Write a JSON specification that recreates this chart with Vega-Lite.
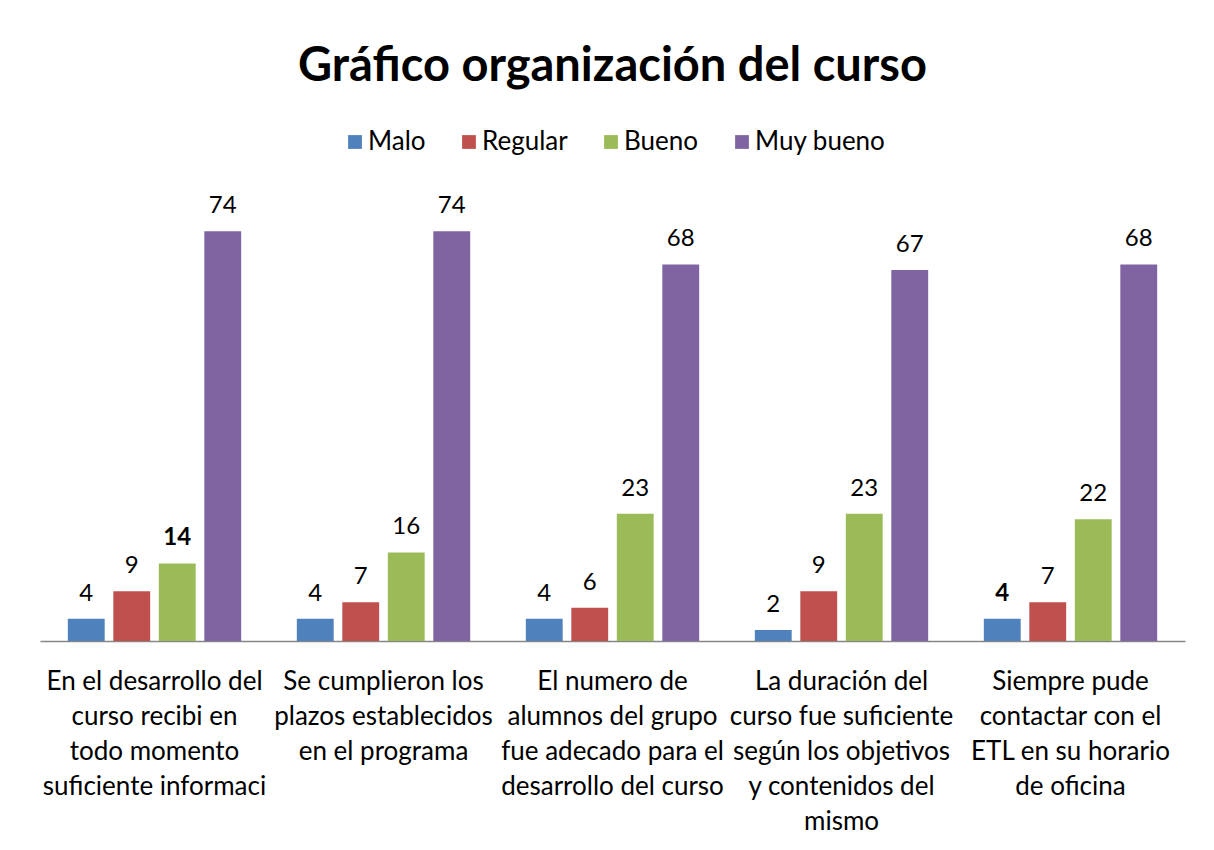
{
  "$schema": "https://vega.github.io/schema/vega-lite/v6.json",
  "width": 1145,
  "height": 443,
  "autosize": "none",
  "padding": {"left": 40, "top": 198, "right": 29, "bottom": 209},
  "background": "white",
  "title": {
    "text": "Gráfico organización del curso",
    "font": "Lato",
    "fontSize": 47,
    "fontWeight": "bold",
    "color": "#000000",
    "anchor": "middle",
    "offset": 38
  },
  "data": {
    "values": [
      {"q": "En el desarrollo del|curso recibi  en|todo momento|suficiente informaci", "s": "Malo", "v": 4},
      {"q": "En el desarrollo del|curso recibi  en|todo momento|suficiente informaci", "s": "Regular", "v": 9},
      {"q": "En el desarrollo del|curso recibi  en|todo momento|suficiente informaci", "s": "Bueno", "v": 14},
      {"q": "En el desarrollo del|curso recibi  en|todo momento|suficiente informaci", "s": "Muy bueno", "v": 74},
      {"q": "Se cumplieron los|plazos establecidos|en el programa", "s": "Malo", "v": 4},
      {"q": "Se cumplieron los|plazos establecidos|en el programa", "s": "Regular", "v": 7},
      {"q": "Se cumplieron los|plazos establecidos|en el programa", "s": "Bueno", "v": 16},
      {"q": "Se cumplieron los|plazos establecidos|en el programa", "s": "Muy bueno", "v": 74},
      {"q": "El numero de|alumnos del grupo|fue adecado para el|desarrollo del curso", "s": "Malo", "v": 4},
      {"q": "El numero de|alumnos del grupo|fue adecado para el|desarrollo del curso", "s": "Regular", "v": 6},
      {"q": "El numero de|alumnos del grupo|fue adecado para el|desarrollo del curso", "s": "Bueno", "v": 23},
      {"q": "El numero de|alumnos del grupo|fue adecado para el|desarrollo del curso", "s": "Muy bueno", "v": 68},
      {"q": "La duración del|curso fue suficiente|según los objetivos|y contenidos del|mismo", "s": "Malo", "v": 2},
      {"q": "La duración del|curso fue suficiente|según los objetivos|y contenidos del|mismo", "s": "Regular", "v": 9},
      {"q": "La duración del|curso fue suficiente|según los objetivos|y contenidos del|mismo", "s": "Bueno", "v": 23},
      {"q": "La duración del|curso fue suficiente|según los objetivos|y contenidos del|mismo", "s": "Muy bueno", "v": 67},
      {"q": "Siempre pude|contactar con el|ETL en su horario|de oficina", "s": "Malo", "v": 4},
      {"q": "Siempre pude|contactar con el|ETL en su horario|de oficina", "s": "Regular", "v": 7},
      {"q": "Siempre pude|contactar con el|ETL en su horario|de oficina", "s": "Bueno", "v": 22},
      {"q": "Siempre pude|contactar con el|ETL en su horario|de oficina", "s": "Muy bueno", "v": 68}
    ]
  },
  "encoding": {
    "x": {
      "field": "q",
      "type": "nominal",
      "sort": null,
      "scale": {"paddingInner": 0.243, "paddingOuter": 0.1215},
      "axis": {
        "title": null,
        "labelAngle": 0,
        "labelExpr": "split(datum.label, '|')",
        "labelFont": "Lato",
        "labelFontSize": 26,
        "labelColor": "#000000",
        "labelLineHeight": 35,
        "labelPadding": 27,
        "labelLimit": 400,
        "labelOverlap": false,
        "ticks": false,
        "domainColor": "#868686",
        "domainWidth": 1.5
      }
    },
    "xOffset": {
      "field": "s",
      "type": "nominal",
      "sort": ["Malo", "Regular", "Bueno", "Muy bueno"],
      "scale": {"paddingInner": 0.19, "paddingOuter": 0}
    },
    "y": {
      "field": "v",
      "type": "quantitative",
      "scale": {"domain": [0, 80], "nice": false},
      "axis": null
    }
  },
  "layer": [
    {
      "mark": {"type": "bar"},
      "encoding": {
        "color": {
          "field": "s",
          "type": "nominal",
          "sort": ["Malo", "Regular", "Bueno", "Muy bueno"],
          "scale": {
            "domain": ["Malo", "Regular", "Bueno", "Muy bueno"],
            "range": ["#4F81BD", "#C0504D", "#9BBB59", "#8064A2"]
          },
          "legend": {
            "title": null,
            "orient": "none",
            "legendX": 302,
            "legendY": -69,
            "direction": "horizontal",
            "symbolType": "square",
            "symbolSize": 190,
            "symbolStrokeWidth": 0,
            "labelFont": "Lato",
            "labelFontSize": 26,
            "labelColor": "#000000",
            "labelOffset": 0,
            "columnPadding": 30
          }
        }
      }
    },
    {
      "transform": [{"filter": "!((datum.s == 'Bueno' && datum.v == 14) || (datum.s == 'Malo' && datum.q == 'Siempre pude|contactar con el|ETL en su horario|de oficina'))"}],
      "mark": {"type": "text", "font": "Lato", "fontSize": 24, "color": "#000000", "baseline": "alphabetic", "dy": -18},
      "encoding": {"text": {"field": "v", "type": "quantitative"}}
    },
    {
      "transform": [{"filter": "(datum.s == 'Bueno' && datum.v == 14) || (datum.s == 'Malo' && datum.q == 'Siempre pude|contactar con el|ETL en su horario|de oficina')"}],
      "mark": {"type": "text", "font": "Lato", "fontSize": 24, "fontWeight": "bold", "color": "#000000", "baseline": "alphabetic", "dy": -18},
      "encoding": {"text": {"field": "v", "type": "quantitative"}}
    }
  ],
  "config": {
    "view": {"stroke": null}
  }
}
